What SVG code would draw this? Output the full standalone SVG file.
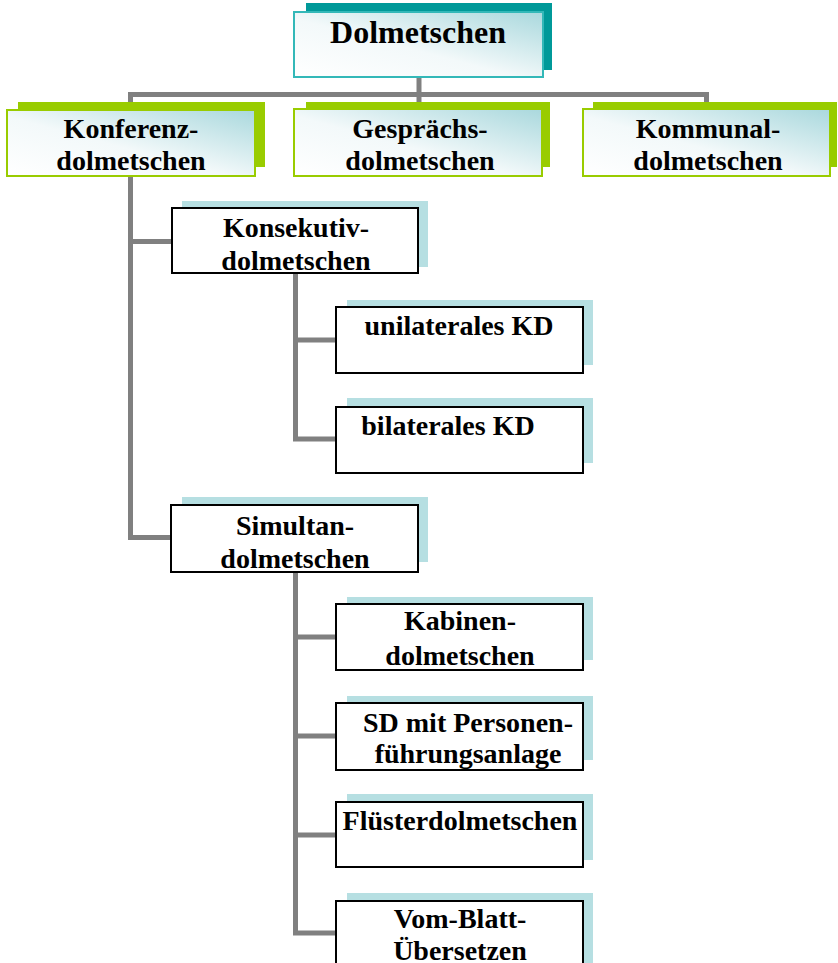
<svg xmlns="http://www.w3.org/2000/svg" width="838" height="963" viewBox="0 0 838 963">
<style>
.t{font-family:"Liberation Serif","Times New Roman",serif;font-weight:bold;font-size:28px;fill:#000;text-anchor:middle}
.big{font-size:32px}
.con{fill:none;stroke:#808080;stroke-width:5;stroke-linejoin:miter;stroke-linecap:butt}
.shT{fill:#009999}
.shG{fill:#99cc00}
.shB{fill:#b6dfe2}
.frT{fill:url(#g);stroke:#33b8b8;stroke-width:2}
.frG{fill:url(#g);stroke:#99cc00;stroke-width:2}
.frW{fill:#fff;stroke:#000;stroke-width:2}
</style>
<defs>
<linearGradient id="g" x1="0" y1="1" x2="1" y2="0">
<stop offset="0" stop-color="#ffffff"/>
<stop offset="0.45" stop-color="#f3f9fa"/>
<stop offset="1" stop-color="#a9d8dd"/>
</linearGradient>
</defs>
<rect width="838" height="963" fill="#fff"/>
<g id="connectors">
<path class="con" d="M419 77 V105"/>
<path class="con" d="M171 537.5 H130.5 V94.5 H706.5 V105"/>
<path class="con" d="M130.5 241.5 H172"/>
<path class="con" d="M295.5 273 V439 H336"/>
<path class="con" d="M295.5 340 H336"/>
<path class="con" d="M295.5 572 V933 H336"/>
<path class="con" d="M295.5 637 H336"/>
<path class="con" d="M295.5 736 H336"/>
<path class="con" d="M295.5 835 H336"/>
</g>
<g id="n-dolmetschen">
<rect class="shT" x="306" y="3" width="246" height="67"/>
<rect class="frT" x="294" y="12" width="249" height="65"/>
<text class="t big" x="418" y="43">Dolmetschen</text>
</g>
<g id="n-konferenz">
<rect class="shG" x="18" y="102" width="247" height="65"/>
<rect class="frG" x="7" y="110" width="248" height="66"/>
<text class="t" x="131" y="138">Konferenz-</text>
<text class="t" x="131" y="170">dolmetschen</text>
</g>
<g id="n-gespraechs">
<rect class="shG" x="306" y="102" width="244" height="65"/>
<rect class="frG" x="294" y="109" width="248" height="67"/>
<text class="t" x="420" y="138">Gesprächs-</text>
<text class="t" x="420" y="170">dolmetschen</text>
</g>
<g id="n-kommunal">
<rect class="shG" x="593" y="102" width="244" height="65"/>
<rect class="frG" x="583" y="109" width="247" height="67"/>
<text class="t" x="708" y="138">Kommunal-</text>
<text class="t" x="708" y="170">dolmetschen</text>
</g>
<g id="n-konsekutiv">
<rect class="shB" x="182" y="201" width="246" height="66"/>
<rect class="frW" x="172" y="208" width="246" height="65"/>
<text class="t" x="296" y="237">Konsekutiv-</text>
<text class="t" x="296" y="270">dolmetschen</text>
</g>
<g id="n-unilaterales">
<rect class="shB" x="347" y="300" width="246" height="65"/>
<rect class="frW" x="336" y="307" width="247" height="66"/>
<text class="t" x="459" y="335">unilaterales KD</text>
</g>
<g id="n-bilaterales">
<rect class="shB" x="347" y="398" width="246" height="65"/>
<rect class="frW" x="336" y="407" width="247" height="66"/>
<text class="t" x="448" y="435">bilaterales KD</text>
</g>
<g id="n-simultan">
<rect class="shB" x="182" y="497" width="246" height="65"/>
<rect class="frW" x="171" y="505" width="247" height="67"/>
<text class="t" x="295" y="535">Simultan-</text>
<text class="t" x="295" y="568">dolmetschen</text>
</g>
<g id="n-kabinen">
<rect class="shB" x="347" y="597" width="246" height="63"/>
<rect class="frW" x="336" y="604" width="247" height="66"/>
<text class="t" x="460" y="630">Kabinen-</text>
<text class="t" x="460" y="665">dolmetschen</text>
</g>
<g id="n-sd">
<rect class="shB" x="347" y="696" width="246" height="64"/>
<rect class="frW" x="336" y="703" width="247" height="67"/>
<text class="t" x="468" y="732">SD mit Personen-</text>
<text class="t" x="468" y="763">führungsanlage</text>
</g>
<g id="n-fluester">
<rect class="shB" x="347" y="794" width="246" height="66"/>
<rect class="frW" x="336" y="802" width="247" height="65"/>
<text class="t" x="460" y="830">Flüsterdolmetschen</text>
</g>
<g id="n-vomblatt">
<rect class="shB" x="347" y="893" width="246" height="80"/>
<rect class="frW" x="336" y="901" width="247" height="72"/>
<text class="t" x="460" y="928">Vom-Blatt-</text>
<text class="t" x="460" y="960">Übersetzen</text>
</g>
</svg>
